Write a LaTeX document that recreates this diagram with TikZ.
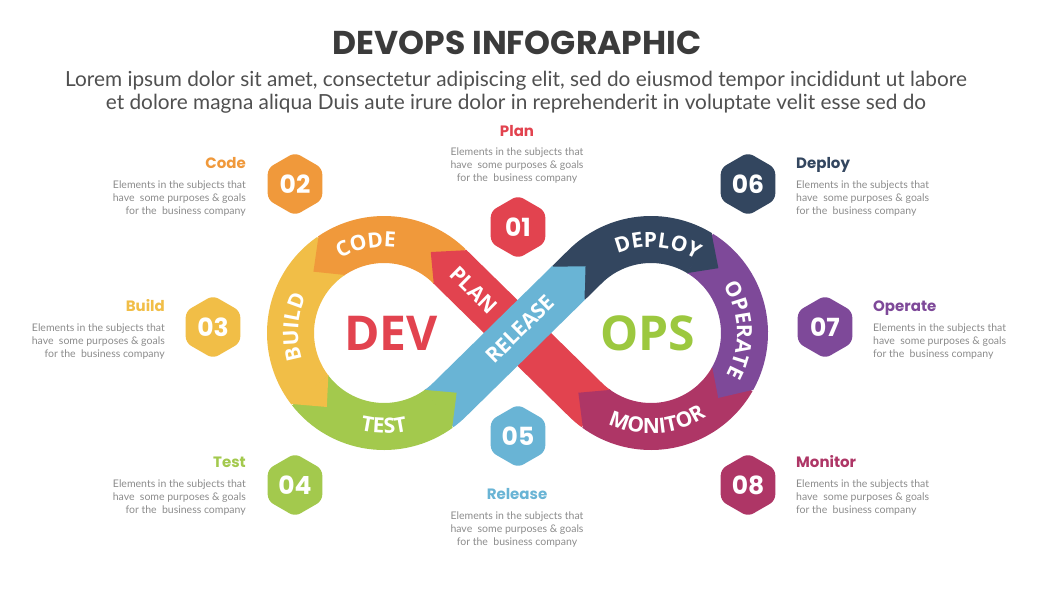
\documentclass[tikz,border=0pt]{standalone}
\usepackage{fontspec}
\setmainfont{Lato}
\newfontfamily\popfont{Poppins}
\newfontfamily\osfont{Open Sans}
\usetikzlibrary{calc,shapes.geometric,decorations.text}

\definecolor{cPlan}{HTML}{E2434F}
\definecolor{cCode}{HTML}{F0993B}
\definecolor{cBuild}{HTML}{F1BE47}
\definecolor{cTest}{HTML}{A3C94D}
\definecolor{cRelease}{HTML}{69B4D5}
\definecolor{cDeploy}{HTML}{33465F}
\definecolor{cOperate}{HTML}{7E4999}
\definecolor{cMonitor}{HTML}{AE3666}
\definecolor{cOps}{HTML}{9CC83F}
\definecolor{titlegray}{HTML}{3B3B3B}
\definecolor{subgray}{HTML}{505050}
\definecolor{descgray}{HTML}{8C8C8C}

\newcommand\bandfont{\osfont\bfseries\fontsize{21}{21}\selectfont}
% curved white label on a ring: centre, radius, from angle, to angle, text
\newcommand\arctext[5]{%
  \path[decorate, decoration={text along path, text align=center,
        text color=white, text={|\bandfont|#5}}]
    ($(#1)+(#3:#2)$) arc[start angle=#3, end angle=#4, radius=#2];}
\newcommand\desctext{Elements in the subjects that\\have\ \ some purposes \& goals\\for the\ \ business company}

\begin{document}
\begin{tikzpicture}[x=1pt, y=-1pt,
  band/.style={line width=47pt, line cap=butt},
  hexa/.style={regular polygon, regular polygon sides=6, shape border rotate=30,
    minimum size=63pt, inner sep=0pt, rounded corners=6pt, text=white,
    font=\popfont\bfseries\fontsize{25}{25}\selectfont},
  steplabel/.style={inner sep=0pt, font=\popfont\bfseries\fontsize{15}{15}\selectfont},
  desc/.style={inner sep=0pt, text=descgray, font=\fontsize{10.5}{13}\selectfont},
  bandtxt/.style={inner sep=0pt, text=white, font=\bandfont}]

\useasboundingbox (0,0) rectangle (1047,589);
\fill[white] (0,0) rectangle (1047,589);

% ---------- infinity loop geometry ----------
\def\rc{93.5}\def\ro{117}\def\ri{70}\def\tg{45.54}
\coordinate (L) at (384,333);
\coordinate (R) at (651,333);
\coordinate (M) at (517.5,333);
\coordinate (TLu) at ($(L)+({-\tg}:\rc)$);
\coordinate (TLd) at ($(L)+({\tg}:\rc)$);
\coordinate (TRu) at ($(R)+({180+\tg}:\rc)$);
\coordinate (TRd) at ($(R)+({180-\tg}:\rc)$);
\coordinate (B6) at ($(TLd)!167pt!(TRu)$);

% band bodies (red first so the blue diagonal lies on top)
\draw[band, cPlan] ($(R)+(486.19:\rc)$) arc[start angle=486.19, end angle={540-\tg}, radius=\rc] -- (TLu);
\draw[band, cCode] (TLu) arc[start angle={-\tg}, end angle=-124.6, radius=\rc];
\draw[band, cBuild] ($(L)+(-124.6:\rc)$) arc[start angle=-124.6, end angle=-217.9, radius=\rc];
\draw[band, cTest] ($(L)+(-217.9:\rc)$) arc[start angle=-217.9, end angle=-306.19, radius=\rc];
\draw[band, cDeploy] (B6) -- (TRu) arc[start angle={180+\tg}, end angle=301.7, radius=\rc];
\draw[band, cOperate] ($(R)+(301.7:\rc)$) arc[start angle=301.7, end angle=389.6, radius=\rc];
\draw[band, cMonitor] ($(R)+(389.6:\rc)$) arc[start angle=389.6, end angle=486.19, radius=\rc];
\draw[band, cRelease] ($(L)+(-306.19:\rc)$) arc[start angle=-306.19, end angle={-360+\tg}, radius=\rc] -- (B6);

% arrow heads
\coordinate (B2) at ($(TLu)!1pt!(TRd)$);
\fill[cPlan] ($(B2)!23.5pt!90:(TRd)$) -- ($(L)+(-60:\rc)$) -- ($(B2)!23.5pt!-90:(TRd)$) -- cycle;
\fill[cCode] ($(L)+(-124:\ro)$) -- ($(L)+(-139:\rc)$) -- ($(L)+(-124:\ri)$) -- cycle;
\fill[cBuild] ($(L)+(-217.3:\ro)$) -- ($(L)+(-232.3:\rc)$) -- ($(L)+(-217.3:\ri)$) -- cycle;
\fill[cTest] ($(L)+(-305.59:\ro)$) -- ($(TLd)!10pt!(TRu)$) -- ($(L)+(-305.59:\ri)$) -- cycle;
\coordinate (B6e) at ($(TLd)!166pt!(TRu)$);
\fill[cRelease] ($(B6e)!23.5pt!90:(TRu)$) -- (TRu) -- ($(B6e)!23.5pt!-90:(TRu)$) -- cycle;
\fill[cDeploy] ($(R)+(301.1:\ro)$) -- ($(R)+(316.1:\rc)$) -- ($(R)+(301.1:\ri)$) -- cycle;
\fill[cOperate] ($(R)+(389:\ro)$) -- ($(R)+(404:\rc)$) -- ($(R)+(389:\ri)$) -- cycle;
\fill[cMonitor] ($(R)+(485.59:\ro)$) -- ($(TRd)!10pt!(TLu)$) -- ($(R)+(485.59:\ri)$) -- cycle;

% labels on the ring
\arctext{L}{86}{-141.5}{-61.5}{CODE}
\arctext{L}{86}{143.7}{223.7}{BUILD}
\arctext{L}{100.5}{130}{50}{TEST}
\arctext{R}{86}{234.5}{314.5}{DEPLOY}
\arctext{R}{86}{318}{398}{OPERATE}
\arctext{R}{100.5}{140}{32}{MONITOR}
\node[bandtxt, rotate=-44.5] (tplan) at (474,290) {PLAN};
\node[bandtxt, rotate=44.5] (trel) at (520,329) {RELEASE};

\node[text=cPlan, font=\osfont\bfseries\fontsize{48}{48}\selectfont] (dev) at (391,333) {DEV};
\node[text=cOps, font=\osfont\bfseries\fontsize{48}{48}\selectfont] (ops) at (648,333) {OPS};

% ---------- heading ----------
\node[text=titlegray, font=\popfont\bfseries\fontsize{33}{33}\selectfont] (title) at (517,43) {DEVOPS INFOGRAPHIC};
\node[text=subgray, align=center, font=\fontsize{20.8}{23}\selectfont] (sub) at (516,92)
  {Lorem ipsum dolor sit amet, consectetur adipiscing elit, sed do eiusmod tempor incididunt ut labore\\
   et dolore magna aliqua Duis aute irure dolor in reprehenderit in voluptate velit esse sed do};

% ---------- numbered hexagons ----------
\node[hexa, fill=cPlan] (h1) at (518,227) {01};
\node[hexa, fill=cCode] (h2) at (295,184) {02};
\node[hexa, fill=cBuild] (h3) at (213,327) {03};
\node[hexa, fill=cTest] (h4) at (295,485) {04};
\node[hexa, fill=cRelease] (h5) at (518,436) {05};
\node[hexa, fill=cDeploy] (h6) at (748,184) {06};
\node[hexa, fill=cOperate] (h7) at (825,327) {07};
\node[hexa, fill=cMonitor] (h8) at (748,485) {08};

% ---------- step captions ----------
\node[steplabel, text=cPlan, anchor=base] (lplan) at (517,136.5) {Plan};
\node[desc, align=center, anchor=north] (dplan) at (517,148) {\desctext};
\node[steplabel, text=cCode, anchor=base east] (lcode) at (246,168.5) {Code};
\node[desc, align=right, anchor=north east] (dcode) at (246,181) {\desctext};
\node[steplabel, text=cBuild, anchor=base east] (lbuild) at (165,311.5) {Build};
\node[desc, align=right, anchor=north east] (dbuild) at (165,324) {\desctext};
\node[steplabel, text=cTest, anchor=base east] (ltest) at (246,467.5) {Test};
\node[desc, align=right, anchor=north east] (dtest) at (246,480) {\desctext};
\node[steplabel, text=cRelease, anchor=base] (lrel) at (517,499.5) {Release};
\node[desc, align=center, anchor=north] (drel) at (517,512) {\desctext};
\node[steplabel, text=cDeploy, anchor=base west] (ldep) at (796,168.5) {Deploy};
\node[desc, align=left, anchor=north west] (ddep) at (796,181) {\desctext};
\node[steplabel, text=cOperate, anchor=base west] (lop) at (873,311.5) {Operate};
\node[desc, align=left, anchor=north west] (dop) at (873,324) {\desctext};
\node[steplabel, text=cMonitor, anchor=base west] (lmon) at (796,467.5) {Monitor};
\node[desc, align=left, anchor=north west] (dmon) at (796,480) {\desctext};

\end{tikzpicture}
\end{document}
